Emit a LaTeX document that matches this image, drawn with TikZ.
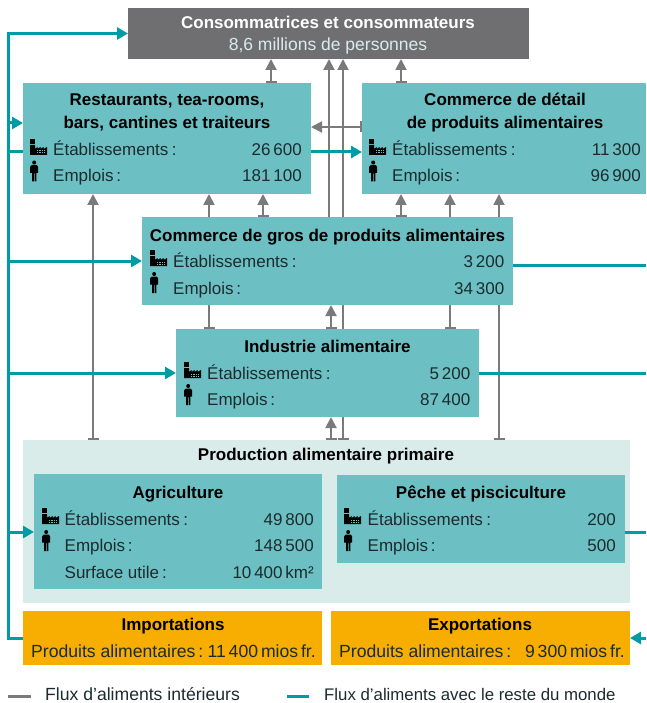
\documentclass[tikz,border=0pt]{standalone}
\usepackage{fontspec}
\setmainfont{Liberation Sans}
\usetikzlibrary{arrows.meta,backgrounds}
\definecolor{boxteal}{HTML}{6CC0C3}
\definecolor{boxlight}{HTML}{D9ECE9}
\definecolor{boxgray}{HTML}{6F6F71}
\definecolor{boxorange}{HTML}{F7AE00}
\definecolor{lineteal}{HTML}{009CA6}
\definecolor{linegray}{HTML}{7A7A7A}
\definecolor{inkdark}{HTML}{1C2B2D}
\newcommand{\cln}{\hspace{3.5pt}:}
\tikzset{
  area/.style={inner sep=0pt,outer sep=0pt,anchor=north west},
  tealbox/.style={area,fill=boxteal},
  lab/.style={anchor=base west,inner sep=0pt,text=inkdark,font=\fontsize{17}{20}\selectfont},
  val/.style={anchor=base east,inner sep=0pt,text=inkdark,font=\fontsize{17}{20}\selectfont},
  ttl/.style={anchor=base,inner sep=0pt,text=black,font=\fontsize{17}{20}\selectfont\bfseries},
  gflow/.style={draw=linegray,line width=1.9pt,{Bar[width=11pt,line width=1.6pt]}-{Triangle[width=11pt,length=11pt]}},
  gfree/.style={draw=linegray,line width=1.9pt,-{Triangle[width=11pt,length=11pt]}},
  tline/.style={draw=lineteal,line width=3pt},
  tflow/.style={tline,-{Triangle[width=12pt,length=11pt]}},
  pics/factory/.style={code={
    \fill[black] (0,0) rectangle (4.8,5);
    \fill[black] (0,6) -- (5,6) -- (5,10) -- (7.5,8) -- (7.5,10) -- (10.5,8) -- (10.5,10) -- (13.5,8) -- (13.5,10) -- (17,8) -- (17,16) -- (0,16) -- cycle;
    \foreach \wx in {6.8,9.2,11.6,14} {\fill[boxteal] (\wx,11.5) rectangle +(1.3,1);\fill[boxteal] (\wx,13.5) rectangle +(1.3,1);}
  }},
  pics/person/.style={code={
    \fill[black] (4.2,2) circle (2);
    \fill[black] (1.8,4.5) -- (6.6,4.5) to[out=0,in=90] (8.2,6.3) -- (8.2,12.5) -- (6.6,12.5) -- (6.3,12.5) -- (6.3,21) -- (4.6,21) -- (4.6,13) -- (3.8,13) -- (3.8,21) -- (2.1,21) -- (2.1,12.5) -- (0.2,12.5) -- (0.2,6.3) to[out=90,in=180] cycle;
  }}
}
\newcommand{\rowt}[6]{\node[lab] (#1l) at (#2,#4) {#5};\node[val] (#1v) at (#3,#4) {#6};}
\begin{document}
\begin{tikzpicture}[x=1pt,y=-1pt]
\useasboundingbox (0,0) rectangle (646,703);
% boxes
\node[area,fill=boxgray,minimum width=401pt,minimum height=51pt] (cons) at (128,8) {};
\node[tealbox,minimum width=288pt,minimum height=111pt] (rest) at (23,83) {};
\node[tealbox,minimum width=284pt,minimum height=111pt] (detail) at (362,83) {};
\node[tealbox,minimum width=371pt,minimum height=88pt] (gros) at (142,217) {};
\node[tealbox,minimum width=303pt,minimum height=88pt] (indus) at (176,329) {};
\node[area,fill=boxlight,minimum width=607pt,minimum height=163pt] (prod) at (23,440) {};
\node[tealbox,minimum width=288pt,minimum height=115pt] (agri) at (34,474) {};
\node[tealbox,minimum width=288pt,minimum height=88pt] (peche) at (337,475) {};
\node[area,fill=boxorange,minimum width=299pt,minimum height=54pt] (import) at (23,611) {};
\node[area,fill=boxorange,minimum width=299pt,minimum height=54pt] (export) at (331,611) {};
\coordinate (railtop) at (8,33.5);
\coordinate (railbot) at (8,638);
\coordinate (edge) at (646,0);
\begin{scope}[on background layer]
  % grey flows
  \draw[gflow] (271,0 |- rest.north) -- (271,0 |- cons.south);
  \draw[gflow] (401,0 |- detail.north) -- (401,0 |- cons.south);
  \draw[gfree] (329,0 |- gros.north) -- (329,0 |- cons.south);
  \draw[gflow] (343,0 |- prod.north) -- (343,0 |- cons.south);
  \draw[gflow] (detail.west |- 0,127) -- (rest.east |- 0,127);
  \draw[gflow] (93,0 |- prod.north) -- (93,0 |- rest.south);
  \draw[gflow] (209,0 |- indus.north) -- (209,0 |- rest.south);
  \draw[gflow] (263,0 |- gros.north) -- (263,0 |- rest.south);
  \draw[gflow] (401,0 |- gros.north) -- (401,0 |- detail.south);
  \draw[gflow] (450,0 |- indus.north) -- (450,0 |- detail.south);
  \draw[gflow] (499,0 |- prod.north) -- (499,0 |- detail.south);
  \draw[gflow] (331,0 |- indus.north) -- (331,0 |- gros.south);
  \draw[gflow] (331,0 |- prod.north) -- (331,0 |- indus.south);
  % teal flows
  \draw[tflow] (import.west |- railbot) -- (railbot) -- (railtop) -- (cons.west);
  \draw[tflow] (railtop |- 0,123) -- (rest.west |- 0,123);
  \draw[tline] (railtop |- 0,152) -- (rest.west |- 0,152);
  \draw[tflow] (rest.east |- 0,152) -- (detail.west |- 0,152);
  \draw[tflow] (railtop |- 0,261) -- (gros.west |- 0,261);
  \draw[tflow] (railtop |- 0,373) -- (indus.west |- 0,373);
  \draw[tline] (gros.east |- 0,265) -- (edge |- 0,265);
  \draw[tline] (indus.east |- 0,373) -- (edge |- 0,373);
  \draw[tflow] (edge |- export.east) -- (export.east);
\end{scope}
\draw[tflow] (railtop |- 0,532) -- (agri.west |- 0,532);
\draw[tline] (peche.east |- 0,532) -- (edge |- 0,532);
% consumers
\node[anchor=base,inner sep=0pt,text=white,font=\fontsize{17}{20}\selectfont\bfseries] (constitle) at (328,29) {Consommatrices et consommateurs};
\node[anchor=base,inner sep=0pt,text=boxlight,font=\fontsize{17.5}{20}\selectfont] (conssub) at (328,51) {8,6 millions de personnes};
% restaurants
\node[ttl] (restt1) at (167,105.5) {Restaurants, tea-rooms,};
\node[ttl] (restt2) at (167,128.5) {bars, cantines et traiteurs};
\pic at (30,139) {factory}; \pic at (30,160.5) {person};
\rowt{ra}{53}{302}{156}{Établissements\cln}{26\,600}
\rowt{rb}{53}{302}{182}{Emplois\,:}{181\,100}
% detail
\node[ttl] (dett1) at (505,105.5) {Commerce de détail};
\node[ttl] (dett2) at (505,128.5) {de produits alimentaires};
\pic at (369,139) {factory}; \pic at (369,160.5) {person};
\rowt{da}{392}{641}{156}{Établissements\cln}{11\,300}
\rowt{db}{392}{641}{182}{Emplois\,:}{96\,900}
% gros
\node[ttl] (grost) at (327.5,241) {Commerce de gros de produits alimentaires};
\pic at (150,250) {factory}; \pic at (150,272) {person};
\rowt{ga}{173}{504.5}{267.5}{Établissements\cln}{3\,200}
\rowt{gb}{173}{504.5}{294}{Emplois\,:}{34\,300}
% industrie
\node[ttl] (indt) at (327.5,352.5) {Industrie alimentaire};
\pic at (184,362) {factory}; \pic at (184,384) {person};
\rowt{ia}{207}{470.5}{379}{Établissements\cln}{5\,200}
\rowt{ib}{207}{470.5}{405}{Emplois\,:}{87\,400}
% production
\node[ttl] (prodt) at (326,460.5) {Production alimentaire primaire};
\node[ttl] (agrit) at (178,498) {Agriculture};
\pic at (42,508) {factory}; \pic at (42,530) {person};
\rowt{aa}{64.5}{314}{525}{Établissements\cln}{49\,800}
\rowt{ab}{64.5}{314}{551}{Emplois\,:}{148\,500}
\rowt{ac}{64.5}{314}{578}{Surface utile\,:}{10\,400\,km²}
\node[ttl] (pechet) at (481,498) {Pêche et pisciculture};
\pic at (344,508) {factory}; \pic at (344,530) {person};
\rowt{pa}{367.5}{616}{525}{Établissements\cln}{200}
\rowt{pb}{367.5}{616}{551}{Emplois\,:}{500}
% trade
\node[ttl] (impt) at (173,630) {Importations};
\tikzset{lab/.append style={font=\fontsize{17.6}{20}\selectfont},val/.append style={font=\fontsize{17.6}{20}\selectfont}}
\rowt{ma}{31}{316}{657}{Produits alimentaires\,:}{11\,400\,mios\,fr.}
\node[ttl] (expt) at (480,630) {Exportations};
\rowt{xa}{339}{625}{657}{Produits alimentaires\,:}{9\,300\,mios\,fr.}
% legend
\coordinate (lga) at (8,696);\coordinate (lgb) at (31,696);
\coordinate (lta) at (287,696);\coordinate (ltb) at (309,696);
\draw[draw=linegray,line width=3pt] (lga) -- (lgb);
\draw[tline] (lta) -- (ltb);
\node[lab] (lg1) at (45,700.5) {Flux d’aliments intérieurs};
\tikzset{lab/.append style={font=\fontsize{16.8}{20}\selectfont}}
\node[lab] (lg2) at (324,700.5) {Flux d’aliments avec le reste du monde};
\end{tikzpicture}
\end{document}
